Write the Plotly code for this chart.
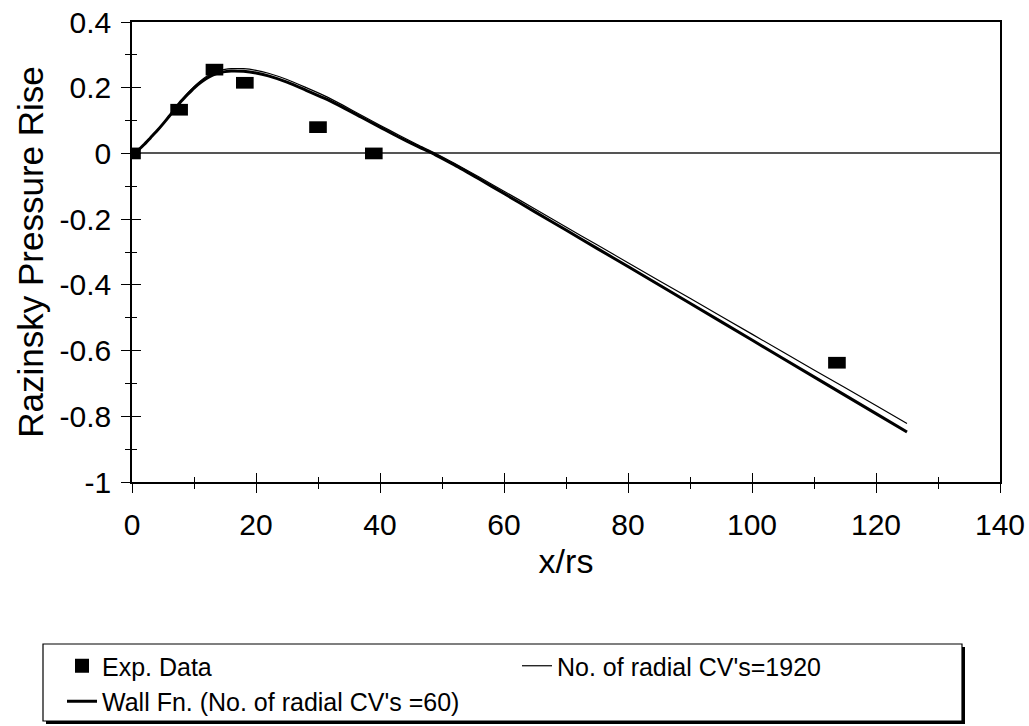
import plotly.graph_objects as go

# ---- data ----
exp_x = [0, 7.6, 13.3, 18.2, 30.0, 39.0, 113.7]
exp_y = [0, 0.133, 0.255, 0.215, 0.080, 0.0, -0.637]

sim_x = [0, 1, 2, 3, 4, 5, 6, 7, 8, 9, 10, 11, 12, 13, 14, 15, 16,
         18, 20, 22, 25, 28, 31, 34, 37, 40, 43, 46, 49, 52, 56, 60, 65,
         70, 75, 80, 90, 100, 110, 120, 125]
wall_y = [0, 0.01, 0.028, 0.048, 0.068, 0.09, 0.113, 0.137, 0.16, 0.18, 0.199,
          0.215, 0.228, 0.238, 0.245, 0.249, 0.251,
          0.25, 0.245, 0.236, 0.217, 0.193, 0.168, 0.14, 0.11, 0.08, 0.05,
          0.022, -0.005, -0.035, -0.078, -0.122, -0.178, -0.233, -0.289,
          -0.344, -0.456, -0.568, -0.680, -0.792, -0.848]
fine_y = [0, 0.01, 0.028, 0.048, 0.068, 0.09, 0.114, 0.139, 0.163, 0.184, 0.203,
          0.22, 0.234, 0.245, 0.252, 0.256, 0.258,
          0.258, 0.253, 0.244, 0.225, 0.201, 0.176, 0.147, 0.116, 0.086, 0.056,
          0.027, 0.0, -0.03, -0.072, -0.115, -0.169, -0.224, -0.278,
          -0.333, -0.441, -0.550, -0.659, -0.767, -0.822]

name_exp = "Exp. Data"
name_fine = "No. of radial CV's=1920"
name_wall = "Wall Fn. (No. of radial CV's =60)"

x_tickvals = [0, 20, 40, 60, 80, 100, 120, 140]
x_ticktext = ["0", "20", "40", "60", "80", "100", "120", "140"]
y_tickvals = [-1, -0.8, -0.6, -0.4, -0.2, 0, 0.2, 0.4]
y_ticktext = ["-1", "-0.8", "-0.6", "-0.4", "-0.2", "0", "0.2", "0.4"]

x_range = [0, 140]
y_range = [-1, 0.4]

# ---- layout geometry (pixels) ----
W, H = 1029, 726
ML, MR, MT, MB = 132, 29, 22, 244
PW, PH = W - ML - MR, H - MT - MB
FONT = "Liberation Sans, Arial, sans-serif"


def px_x(p):
    return (p - ML) / PW


def px_y(p):
    return (H - MB - p) / PH


fig = go.Figure()

fig.add_trace(go.Scatter(
    x=sim_x, y=wall_y, mode="lines", name=name_wall, legendrank=3,
    line=dict(color="black", width=3, shape="spline", smoothing=0.6)))
fig.add_trace(go.Scatter(
    x=sim_x, y=fine_y, mode="lines", name=name_fine, legendrank=2,
    line=dict(color="black", width=1.2, shape="spline", smoothing=0.6)))
fig.add_trace(go.Scatter(
    x=exp_x, y=exp_y, mode="markers", name=name_exp, showlegend=False,
    marker=dict(symbol="line-ew", size=12.6,
                line=dict(color="black", width=11.7))))
fig.add_trace(go.Scatter(
    x=[None], y=[None], mode="markers", name=name_exp, legendrank=1,
    marker=dict(symbol="square", size=14, color="black")))
fig.add_trace(go.Scatter(x=[None], y=[None], xaxis="x2", yaxis="y2",
                         showlegend=False, hoverinfo="skip"))

tickfont = dict(family=FONT, size=30, color="black")

fig.update_layout(
    template="none",
    width=W, height=H,
    margin=dict(l=ML, r=MR, t=MT, b=MB, autoexpand=False),
    paper_bgcolor="white", plot_bgcolor="white",
    font=dict(family=FONT, color="black"),
    xaxis=dict(
        range=x_range, tickmode="array", tickvals=x_tickvals, ticktext=x_ticktext,
        tickfont=tickfont, showgrid=False, automargin=False,
        showline=True, linecolor="black", linewidth=1.5, mirror=True,
        zeroline=False,
        ticks="outside", ticklen=9, tickwidth=1.2, tickcolor="black",
        minor=dict(dtick=10, tick0=0, ticks="outside", ticklen=5, tickwidth=1.2,
                   tickcolor="black", showgrid=False),
        ticklabelstandoff=6,
        title=dict(text="x/rs", font=dict(family=FONT, size=34, color="black"), standoff=9),
    ),
    yaxis=dict(
        range=y_range, tickmode="array", tickvals=y_tickvals, ticktext=y_ticktext,
        tickfont=tickfont, showgrid=False, automargin=False,
        showline=True, linecolor="black", linewidth=1.5, mirror=True,
        zeroline=True, zerolinecolor="#555555", zerolinewidth=1.5,
        ticks="outside", ticklen=9, tickwidth=1.2, tickcolor="black",
        minor=dict(dtick=0.1, tick0=0, ticks="outside", ticklen=5, tickwidth=1.2,
                   tickcolor="black", showgrid=False),
        ticklabelstandoff=4,
        title=dict(text="Razinsky Pressure Rise", font=dict(family=FONT, size=35, color="black"),
                   standoff=5),
    ),
    xaxis2=dict(
        range=x_range, tickmode="array", tickvals=x_tickvals, overlaying="x", anchor="y2",
        showgrid=False, showline=False, zeroline=False, showticklabels=False,
        automargin=False,
        ticks="inside", ticklen=9, tickwidth=1.2, tickcolor="black",
        minor=dict(dtick=10, tick0=0, ticks="inside", ticklen=5, tickwidth=1.2,
                   tickcolor="black", showgrid=False),
    ),
    yaxis2=dict(
        range=y_range, tickmode="array", tickvals=y_tickvals, overlaying="y", anchor="x2",
        showgrid=False, showline=False, zeroline=False, showticklabels=False,
        automargin=False,
        ticks="inside", ticklen=9, tickwidth=1.2, tickcolor="black",
        minor=dict(dtick=0.1, tick0=0, ticks="inside", ticklen=5, tickwidth=1.2,
                   tickcolor="black", showgrid=False),
    ),
    legend=dict(
        orientation="h",
        x=px_x(62), xanchor="left", y=px_y(643), yanchor="top",
        bgcolor="rgba(0,0,0,0)", borderwidth=0,
        entrywidth=410, entrywidthmode="pixels",
        font=dict(family=FONT, size=25, color="black"),
        traceorder="normal",
    ),
    showlegend=True,
)

# legend frame with drop shadow
box = dict(x0=43, x1=962, y0=644, y1=721)
fig.add_shape(type="rect", xref="paper", yref="paper", layer="below",
              x0=px_x(box["x0"] + 3), x1=px_x(box["x1"] + 3),
              y0=px_y(box["y0"] + 3), y1=px_y(box["y1"] + 3),
              fillcolor="black", line=dict(width=0))
fig.add_shape(type="rect", xref="paper", yref="paper", layer="below",
              x0=px_x(box["x0"]), x1=px_x(box["x1"]),
              y0=px_y(box["y0"]), y1=px_y(box["y1"]),
              fillcolor="white", line=dict(color="black", width=1.2))

fig.write_html("out.html", config={"displayModeBar": False},
               post_script="document.body.style.margin='0';")
